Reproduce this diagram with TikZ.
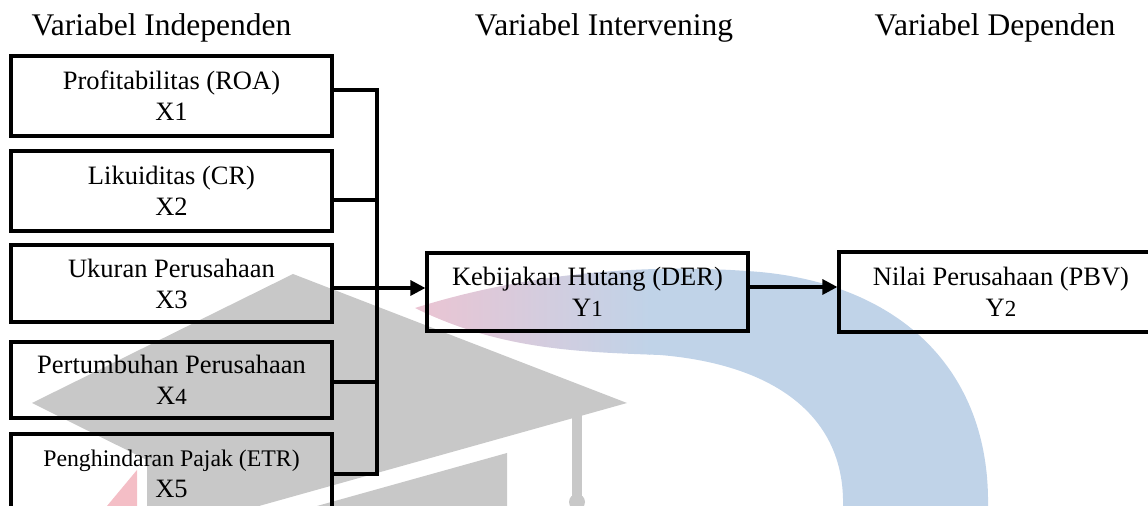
\documentclass[tikz,border=0pt]{standalone}
\usepackage{fontspec}
\setmainfont{Liberation Serif}
\usepackage{xcolor}
\usepackage{tikz}
\usetikzlibrary{positioning,arrows.meta}

\definecolor{cinza}{RGB}{200,200,200}
\definecolor{azulclaro}{RGB}{192,211,232}
\definecolor{rosaclaro}{RGB}{236,196,210}
\definecolor{rosa}{RGB}{244,190,198}

\tikzset{
    caixa/.style={draw,line width=1.6pt,minimum width=160.5pt,minimum height=40pt,inner sep=0pt,align=center,font=\fontsize{13.25}{15.5}\selectfont},
    titulo/.style={anchor=base,font=\fontsize{15.75}{18}\selectfont},
    ligacao/.style={line width=1.6pt},
    seta/.style={line width=1.6pt,-{Triangle[length=7.5pt,width=7.5pt]}}
}

\begin{document}
\begin{tikzpicture}[x=0.5pt,y=-0.5pt]
    \useasboundingbox (0,0) rectangle (1148,506);
    \clip (0,0) rectangle (1148,506);

    % Marca d'agua (arco e capelo)
    \begin{scope}
        \clip (415,308) .. controls (520,275) and (640,262) .. (760,272) .. controls (900,285) and (990,370) .. (988,506) -- (843,506) .. controls (845,420) and (780,365) .. (660,355) .. controls (580,352) and (500,350) .. (415,308) -- cycle;
        \shade[left color=rosaclaro,right color=azulclaro] (410,250) rectangle (650,400);
        \fill[azulclaro] (649,250) rectangle (1000,506);
    \end{scope}
    \fill[cinza] (32,403) -- (293,274) -- (627,403) -- (259,506) -- (147,506) -- (147,460) -- cycle;
    \fill[cinza] (317,506) -- (507,453) -- (507,506) -- cycle;
    \fill[cinza] (572,415) rectangle (582,500);
    \fill[cinza] (577,502) circle[radius=8];
    \fill[rosa] (137,470) -- (107,506) -- (137,506) -- cycle;

    % Titulos
    \node[titulo] (ind) at (161.5,36) {Variabel Independen};
    \node[titulo] (int) at (604,36) {Variabel Intervening};
    \node[titulo] (dep) at (995,36) {Variabel Dependen};

    % Variaveis independentes
    \node[caixa] (x1) at (171.5,96) {Profitabilitas (ROA)\\X1};
    \node[caixa] (x2) at (171.5,191) {Likuiditas (CR)\\X2};
    \node[caixa,minimum height=38.5pt] (x3) at (171.5,283.5) {Ukuran Perusahaan\\X3};
    \node[caixa,minimum height=38pt] (x4) at (171.5,380) {Pertumbuhan Perusahaan\\X{\fontsize{11.5}{15.5}\selectfont 4}};
    \node[caixa] (x5) at (171.5,474) {{\fontsize{11.9}{15.5}\selectfont Penghindaran Pajak (ETR)}\\X5};

    % Intervening e dependente
    \node[caixa,minimum height=39pt] (y1) at (587.5,292) {Kebijakan Hutang (DER)\\Y{\fontsize{11.5}{15}\selectfont 1}};
    \node[caixa,minimum width=162pt] (y2) at (1001,292) {Nilai Perusahaan (PBV)\\Y{\fontsize{11.5}{15}\selectfont 2}};

    % Barramento
    \coordinate (bus) at (377,288);
    \draw[ligacao] ([yshift=3pt]x1.east) -| (bus) |- (x5.east);
    \draw[ligacao] ([yshift=-4.5pt]x2.east) -- ([yshift=-4.5pt]x2.east -| bus);
    \draw[ligacao] ([yshift=-1pt]x4.east) -- ([yshift=-1pt]x4.east -| bus);

    % Setas
    \draw[seta] ([yshift=-2.25pt]x3.east) -- ([yshift=2pt]y1.west);
    \draw[seta] ([yshift=2.5pt]y1.east) -- ([yshift=2.5pt]y2.west);

\end{tikzpicture}
\end{document}
